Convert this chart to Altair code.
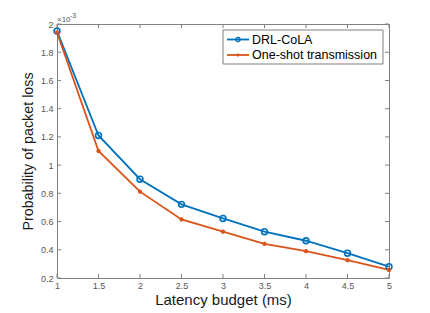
import altair as alt
import pandas as pd

# ---- data (probability values in units of 1e-3) ----
latency = [1, 1.5, 2, 2.5, 3, 3.5, 4, 4.5, 5]
drl_cola = [1.95, 1.21, 0.90, 0.722, 0.622, 0.528, 0.464, 0.376, 0.28]
one_shot = [1.94, 1.10, 0.812, 0.615, 0.528, 0.442, 0.39, 0.326, 0.257]
series_names = ["DRL-CoLA", "One-shot transmission"]
series_colors = ["#0072BD", "#D95319"]
x_ticks = [1, 1.5, 2, 2.5, 3, 3.5, 4, 4.5, 5]
y_ticks = [0.2, 0.4, 0.6, 0.8, 1.0, 1.2, 1.4, 1.6, 1.8, 2.0]

W, H = 332, 254
FONT = "Liberation Sans"
AXIS_GRAY = "#808080"
LABEL_GRAY = "#555555"
TICK = 4

df = pd.DataFrame({
    "latency": latency * 2,
    "value": drl_cola + one_shot,
    "series": [series_names[0]] * len(latency) + [series_names[1]] * len(latency),
})
xt = pd.DataFrame({"t": x_ticks})
yt = pd.DataFrame({"t": y_ticks})

xscale = alt.Scale(domain=[1, 5], nice=False, zero=False)
yscale = alt.Scale(domain=[0.2, 2], nice=False, zero=False)
cscale = alt.Scale(domain=series_names, range=series_colors)

x_axis = alt.Axis(title="Latency budget (ms)", values=x_ticks, format="~g",
                  tickSize=0, domain=False, grid=False, labelOverlap=False,
                  labelFlush=False, labelBound=False, titleFontSize=15,
                  labelPadding=3, titlePadding=2)
y_axis = alt.Axis(title="Probability of packet loss", values=y_ticks, format="~g",
                  tickSize=0, domain=False, grid=False, labelOverlap=False,
                  labelFlush=False, labelBound=False, titleFontSize=14.3,
                  labelPadding=4, titlePadding=5)

base = alt.Chart(df)

lines = base.mark_line(strokeWidth=1.8).encode(
    x=alt.X("latency:Q", scale=xscale, axis=x_axis),
    y=alt.Y("value:Q", scale=yscale, axis=y_axis),
    color=alt.Color("series:N", scale=cscale, legend=None),
)

asterisk = "M-1,0L1,0M0,-1L0,1M-0.7,-0.7L0.7,0.7M-0.7,0.7L0.7,-0.7"

pts_drl = base.transform_filter(alt.datum.series == series_names[0]).mark_point(
    shape="circle", filled=False, size=34, strokeWidth=1.6, color=series_colors[0], opacity=1
).encode(x=alt.X("latency:Q", scale=xscale, axis=x_axis),
         y=alt.Y("value:Q", scale=yscale, axis=y_axis))

pts_one = base.transform_filter(alt.datum.series == series_names[1]).mark_point(
    shape=asterisk, filled=False, size=18, strokeWidth=1.3, color=series_colors[1], opacity=1
).encode(x=alt.X("latency:Q", scale=xscale, axis=x_axis),
         y=alt.Y("value:Q", scale=yscale, axis=y_axis))

# inward ticks on all four sides
tk = dict(color=AXIS_GRAY, strokeWidth=1)
tick_b = alt.Chart(xt).mark_rule(**tk).encode(
    x=alt.X("t:Q", scale=xscale, axis=x_axis), y=alt.value(H), y2=alt.value(H - TICK))
tick_t = alt.Chart(xt).mark_rule(**tk).encode(
    x=alt.X("t:Q", scale=xscale, axis=x_axis), y=alt.value(0), y2=alt.value(TICK))
tick_l = alt.Chart(yt).mark_rule(**tk).encode(
    y=alt.Y("t:Q", scale=yscale, axis=y_axis), x=alt.value(0), x2=alt.value(TICK))
tick_r = alt.Chart(yt).mark_rule(**tk).encode(
    y=alt.Y("t:Q", scale=yscale, axis=y_axis), x=alt.value(W), x2=alt.value(W - TICK))

# exponent label
one = pd.DataFrame({"a": [0]})
exp_main = alt.Chart(one).mark_text(font=FONT, fontSize=8, color=LABEL_GRAY, align="left",
                                    baseline="alphabetic").encode(
    x=alt.value(0), y=alt.value(-2), text=alt.value("×10"))
exp_sup = alt.Chart(one).mark_text(font=FONT, fontSize=7, color=LABEL_GRAY, align="left",
                                   baseline="alphabetic").encode(
    x=alt.value(13), y=alt.value(-6), text=alt.value("-3"))

# legend box
LX0, LX1, LY0, LY1 = 166, 326, 6, 40
leg_box = alt.Chart(one).mark_rect(fill="white", stroke="#7f7f7f", strokeWidth=1).encode(
    x=alt.value(LX0), x2=alt.value(LX1), y=alt.value(LY0), y2=alt.value(LY1))
leg_layers = [leg_box]
row_y = [15.5, 31]
for i, name in enumerate(series_names):
    leg_layers.append(alt.Chart(one).mark_rule(color=series_colors[i], strokeWidth=1.8).encode(
        x=alt.value(170), x2=alt.value(192), y=alt.value(row_y[i])))
    leg_layers.append(alt.Chart(one).mark_point(
        shape="circle" if i == 0 else asterisk, filled=False,
        size=16 if i == 0 else 10, strokeWidth=1.4, color=series_colors[i], opacity=1).encode(
        x=alt.value(181), y=alt.value(row_y[i])))
    leg_layers.append(alt.Chart(one).mark_text(font=FONT, fontSize=12.5, color="black",
                                               align="left", baseline="middle").encode(
        x=alt.value(195), y=alt.value(row_y[i]), text=alt.value(name)))

chart = alt.layer(
    lines, pts_drl, pts_one, tick_b, tick_t, tick_l, tick_r, exp_main, exp_sup, *leg_layers
).properties(
    width=W, height=H,
    autosize="none",
    padding={"left": 49, "top": 16, "right": 33, "bottom": 34},
    background="white",
).configure_view(
    stroke=AXIS_GRAY, strokeWidth=1
).configure_axis(
    labelFont=FONT, labelFontSize=9, labelColor=LABEL_GRAY,
    labelOverlap=False, labelFlush=False,
    titleFont=FONT, titleFontWeight="normal", titleColor="#1a1a1a",
)

chart.save("out.html", embed_options={"renderer": "svg", "actions": False})
